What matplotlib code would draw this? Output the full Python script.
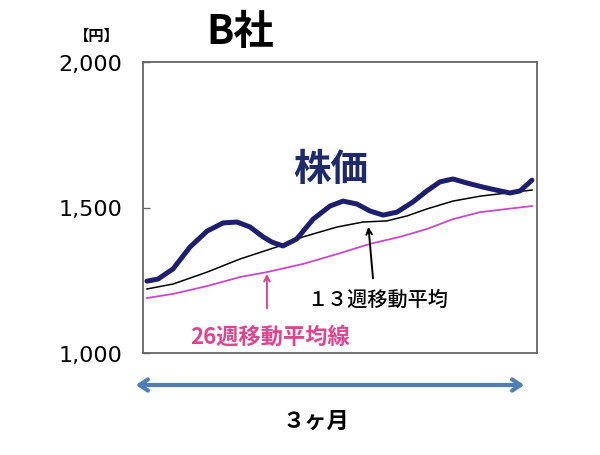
import matplotlib
matplotlib.use('Agg')
import matplotlib.pyplot as plt

plt.rcParams['font.family'] = ['Noto Sans CJK JP', 'DejaVu Sans']

# weeks (x) and yen values
price_weeks = [0.00, 0.37, 0.88, 1.45, 2.03, 2.57, 3.04, 3.48, 3.92, 4.22, 4.59, 5.06,
               5.61, 6.18, 6.62, 7.09, 7.53, 7.97, 8.44, 8.98, 9.45, 9.89, 10.33,
               10.81, 11.35, 11.92, 12.26, 12.60, 13.00]
price = [1247, 1254, 1289, 1364, 1419, 1447, 1450, 1433, 1399, 1381, 1368, 1392,
         1460, 1505, 1522, 1512, 1488, 1474, 1484, 1519, 1557, 1588, 1598,
         1584, 1570, 1557, 1550, 1557, 1594]

ma13_weeks = [0.00, 0.88, 2.03, 3.14, 4.49, 5.27, 6.42, 7.29, 8.10, 8.78, 9.45,
              10.33, 11.25, 12.16, 13.00]
ma13 = [1220, 1237, 1278, 1323, 1368, 1399, 1433, 1450, 1454, 1471, 1495,
        1522, 1539, 1550, 1560]

ma26_weeks = [0.00, 0.88, 2.03, 3.14, 4.05, 5.27, 6.42, 7.53, 8.54, 9.45, 10.33,
              11.25, 12.16, 13.00]
ma26 = [1189, 1203, 1230, 1261, 1278, 1306, 1340, 1375, 1399, 1426, 1460,
        1484, 1495, 1505]

yticks = [1000, 1500, 2000]
ytick_labels = ['1,000', '1,500', '2,000']

fig = plt.figure(figsize=(6, 4.56), dpi=100)
ax = fig.add_axes([143/600, 1 - 354/456, (537-143)/600, (354-63)/456])

ax.plot(ma26_weeks, ma26, color='#C848C8', lw=1.3)
ax.plot(ma13_weeks, ma13, color='black', lw=1.1)
ax.plot(price_weeks, price, color='#1E1E6E', lw=3.6,
        solid_capstyle='round', solid_joinstyle='round')

ax.set_xlim(-0.135, 13.17)
ax.set_ylim(1000, 2000)
ax.set_xticks([])
ax.set_yticks(yticks)
ax.set_yticklabels(ytick_labels, fontsize=16, family='DejaVu Sans')
ax.tick_params(axis='y', direction='in', length=5, width=1, color='#666666', pad=15)
for s in ax.spines.values():
    s.set_color('#666666')
    s.set_linewidth(1.3)

fig.text(240/600, 1 - 32/456, 'B社', fontsize=29, fontweight='bold', ha='center', va='center')
fig.text(97/600, 1 - 36/456, '【円】', fontsize=11, fontweight='bold', ha='center', va='center')
fig.text(331/600, 1 - 169/456, '株価', fontsize=27, fontweight='bold', color='#1E2A6A',
         ha='center', va='center')

ax.annotate('', xy=(4.05, 1282), xytext=(4.05, 1144),
            arrowprops=dict(arrowstyle='->', color='#E0448E', lw=1.4))
ax.annotate('', xy=(7.47, 1443), xytext=(7.64, 1247),
            arrowprops=dict(arrowstyle='->', color='black', lw=1.4))

fig.text(378/600, 1 - 300/456, '１３週移動平均', fontsize=14.5, color='black',
         fontweight='medium', ha='center', va='center')
fig.text(270/600, 1 - 337/456, '26週移動平均線', fontsize=16, color='#E0448E',
         fontweight='bold', ha='center', va='center')

fig.patches.append(matplotlib.patches.FancyArrowPatch(
    (133/600, 1 - 386/456), (527/600, 1 - 386/456), transform=fig.transFigure,
    arrowstyle='<->,head_length=6,head_width=4', color='#4F7DB5', lw=3))
fig.text(316/600, 1 - 421/456, '３ヶ月', fontsize=16, fontweight='bold',
         ha='center', va='center')

fig.savefig('out.png', dpi=100)
